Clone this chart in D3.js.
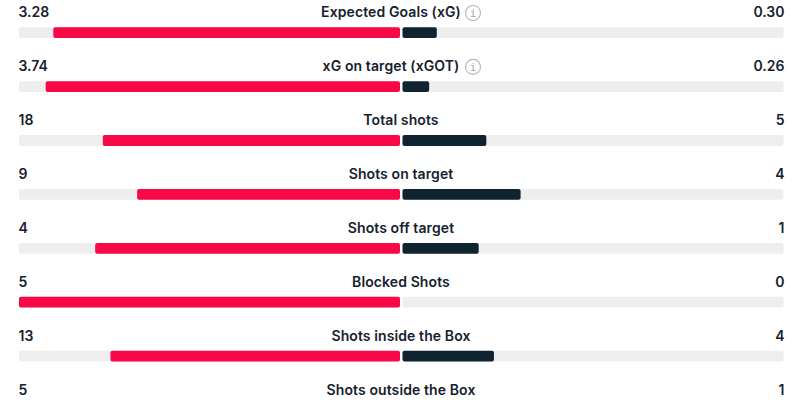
<!DOCTYPE html>
<html><head><meta charset="utf-8">
<script src="https://cdn.jsdelivr.net/npm/d3@7"></script>
<style>html,body{margin:0;padding:0;background:#fff}svg{display:block}text{font-family:Inter,sans-serif;font-weight:600;font-size:14px;fill:#15222e}</style>
</head><body><svg id="c" width="800" height="400"></svg>
<script>
const categories=["Expected Goals (xG)","xG on target (xGOT)","Total shots","Shots on target","Shots off target","Blocked Shots","Shots inside the Box","Shots outside the Box"];
const homeLabels=["3.28","3.74","18","9","4","5","13","5"];
const awayLabels=["0.30","0.26","5","4","1","0","4","1"];
const homeShare=[91,93,78,69,80,100,76,null];
const awayShare=[9,7,22,31,20,0,24,null];
const infoRows=["Expected Goals (xG)","xG on target (xGOT)"];
const HOME="#f80844",AWAY="#0f2430",TRACK="#eeeeee";
const svg=d3.select("#c");
const rowY=d3.scalePoint().domain(categories).range([12,389.3]);
const len=d3.scaleLinear().domain([0,100]).range([0,381]);
const L=400,R=402.5,H=10.8,dy=15.3;
const rows=svg.selectAll("g.row").data(categories).join("g").attr("class","row").attr("transform",d=>`translate(0,${rowY(d)})`);
const bars=rows.filter((d,i)=>homeShare[i]!==null);
bars.append("rect").attr("x",L-len(100)).attr("y",dy).attr("width",len(100)).attr("height",H).attr("rx",2).attr("fill",TRACK);
bars.append("rect").attr("x",R).attr("y",dy).attr("width",len(100)).attr("height",H).attr("rx",2).attr("fill",TRACK);
bars.append("rect").attr("x",d=>L-len(homeShare[categories.indexOf(d)])).attr("y",dy).attr("width",d=>len(homeShare[categories.indexOf(d)])).attr("height",H).attr("rx",2).attr("fill",HOME);
bars.append("rect").attr("x",R).attr("y",dy).attr("width",d=>len(awayShare[categories.indexOf(d)])).attr("height",H).attr("rx",2).attr("fill",AWAY);
rows.append("text").attr("x",d=>infoRows.includes(d)?391:401).attr("y",5.4).attr("text-anchor","middle").style("letter-spacing","0.1px").text(d=>d);
rows.append("text").attr("x",18.5).attr("y",5.4).text((d,i)=>homeLabels[i]);
rows.append("text").attr("x",784.5).attr("y",5.4).attr("text-anchor","end").text((d,i)=>awayLabels[i]);
const info=rows.filter(d=>infoRows.includes(d)).append("g").attr("transform","translate(473,1)");
info.append("circle").attr("r",7.5).attr("fill","none").attr("stroke","#b5b5b5").attr("stroke-width",1.1);
info.append("text").attr("y",4).attr("text-anchor","middle").style("font-family","'DejaVu Sans Mono',monospace").style("font-size","11px").style("font-weight","400").style("fill","#a8a8a8").text("i");
</script></body></html>
